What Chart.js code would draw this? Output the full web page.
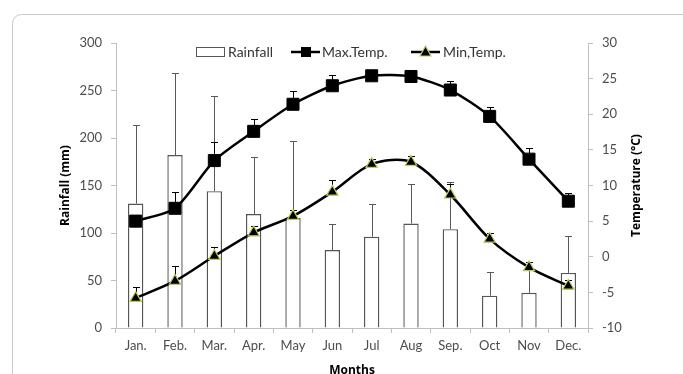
<!DOCTYPE html>
<html>
<head>
<meta charset="utf-8">
<script src="https://cdn.jsdelivr.net/npm/chart.js@4/dist/chart.umd.min.js"></script>
<style>
  html, body { margin: 0; padding: 0; background: #fff; }
  #wrap { width: 683px; height: 374px; position: relative; }
</style>
</head>
<body>
<div id="wrap"><canvas id="chart1"></canvas></div>
<script>
// values
const months = ['Jan.','Feb.','Mar.','Apr.','May','Jun','Jul','Aug','Sep.','Oct','Nov','Dec.'];
const rainfall = [131, 182, 144, 120, 116, 82, 96, 110, 104, 34, 37, 58];
const rainErr  = [83, 86, 100, 60, 81, 28, 35, 42, 50, 25, 26, 39];
const maxTemp  = [5.0, 6.8, 13.5, 17.6, 21.4, 24.0, 25.4, 25.3, 23.4, 19.7, 13.7, 7.8];
const maxErr   = [0.8, 2.3, 2.6, 1.8, 1.9, 1.5, 0.8, 0.7, 1.2, 1.3, 1.5, 1.1];
const minTemp  = [-5.8, -3.4, 0.1, 3.4, 5.7, 9.1, 13.0, 13.3, 8.7, 2.5, -1.5, -4.1];
const minErr   = [1.6, 2.1, 1.2, 0.9, 0.9, 1.7, 0.7, 0.8, 1.5, 0.9, 0.8, 0.9];
const rainTicks = [0, 50, 100, 150, 200, 250, 300];
const tempTicks = [-10, -5, 0, 5, 10, 15, 20, 25, 30];

const FONT = 'Lato, "Open Sans", sans-serif';
const TFONT = '"Open Sans", Lato, sans-serif';
const AXIS = '#bfbfbf';
const TXT = '#4d4d4d';

// rounded frame behind the chart
const framePlugin = {
  id: 'frame',
  beforeDraw(chart) {
    const c = chart.ctx;
    c.save();
    c.strokeStyle = '#c8c8c8';
    c.lineWidth = 1;
    c.beginPath();
    c.roundRect(12.5, 14.5, 720, 400, 9);
    c.stroke();
    c.restore();
  }
};

// plus-only error bars, drawn before each dataset so markers sit on top
const errorPlugin = {
  id: 'errbars',
  beforeDatasetDraw(chart, args) {
    const ds = chart.data.datasets[args.index];
    if (!ds.err) return;
    const scale = chart.scales[ds.yAxisID];
    const c = chart.ctx;
    c.save();
    c.strokeStyle = ds.errColor;
    c.lineWidth = 1;
    args.meta.data.forEach((el, i) => {
      const v = ds.data[i], e = ds.err[i];
      const yTop = Math.round(scale.getPixelForValue(v + e)) + 0.5;
      const yMid = scale.getPixelForValue(v);
      const x = Math.round(el.x) + 0.5;
      c.beginPath();
      c.moveTo(x, yMid); c.lineTo(x, yTop);
      c.moveTo(x - 3.5, yTop); c.lineTo(x + 3.5, yTop);
      c.stroke();
    });
    c.restore();
  }
};

// legend inside the plot + right axis title reading upward, Excel style
const extrasPlugin = {
  id: 'extras',
  afterDraw(chart) {
    const c = chart.ctx;
    const y = 52;
    c.save();
    c.font = '14px ' + FONT;
    c.textBaseline = 'middle';
    // Rainfall box
    c.fillStyle = '#fff';
    c.strokeStyle = '#555';
    c.lineWidth = 1;
    c.fillRect(196.5, 47.5, 28, 9);
    c.strokeRect(196.5, 47.5, 28, 9);
    c.fillStyle = '#333';
    c.fillText('Rainfall', 228, y);
    // Max temp
    c.strokeStyle = '#000';
    c.lineWidth = 2.5;
    c.beginPath(); c.moveTo(291, y); c.lineTo(320, y); c.stroke();
    c.fillStyle = '#000';
    c.fillRect(301, y - 5, 10, 10);
    c.fillStyle = '#333';
    c.fillText('Max.Temp.', 322, y);
    // Min temp
    c.beginPath(); c.moveTo(411, y); c.lineTo(440, y); c.stroke();
    c.fillStyle = '#000';
    c.strokeStyle = '#b8cc5c';
    c.lineWidth = 1.2;
    c.beginPath();
    c.moveTo(425.5, y - 6); c.lineTo(431, y + 4); c.lineTo(420, y + 4); c.closePath();
    c.fill(); c.stroke();
    c.fillStyle = '#333';
    c.fillText('Min,Temp.', 443, y);
    // right axis title
    const a = chart.chartArea;
    c.translate(637, (a.top + a.bottom) / 2);
    c.rotate(-Math.PI / 2);
    c.font = 'bold 12px ' + TFONT;
    c.fillStyle = '#000';
    c.textAlign = 'center';
    c.fillText('Temperature (°C)', 0, 0);
    c.restore();
  }
};

const ctx = document.getElementById('chart1').getContext('2d');
new Chart(ctx, {
  data: {
    labels: months,
    datasets: [
      {
        type: 'line', label: 'Max.Temp.', data: maxTemp, yAxisID: 'yT', order: 1,
        err: maxErr, errColor: '#000',
        borderColor: '#000', borderWidth: 2.5, tension: 0.25,
        pointStyle: 'rect', pointRadius: 8.5, pointBackgroundColor: '#000',
        pointBorderColor: '#000', pointBorderWidth: 1
      },
      {
        type: 'line', label: 'Min,Temp.', data: minTemp, yAxisID: 'yT', order: 2,
        err: minErr, errColor: '#000',
        borderColor: '#000', borderWidth: 2.5, tension: 0.3,
        pointStyle: 'triangle', pointRadius: 6.5, pointBackgroundColor: '#000',
        pointBorderColor: '#b8cc5c', pointBorderWidth: 1.2
      },
      {
        type: 'bar', label: 'Rainfall', data: rainfall, yAxisID: 'yR', order: 10,
        err: rainErr, errColor: '#595959',
        backgroundColor: '#fff', borderColor: '#555', borderWidth: 1.4,
        categoryPercentage: 1, barPercentage: 0.39
      }
    ]
  },
  options: {
    responsive: true,
    maintainAspectRatio: false,
    animation: false,
    layout: { padding: { left: 55, right: 36, top: 43, bottom: -4 } },
    plugins: { legend: { display: false }, tooltip: { enabled: false } },
    scales: {
      x: {
        offset: true,
        grid: { offset: true, drawOnChartArea: false, drawTicks: true, tickLength: 5, color: AXIS },
        border: { color: AXIS },
        ticks: { color: TXT, font: { family: FONT, size: 13 }, padding: 5 },
        title: { display: true, text: 'Months', color: '#000', font: { family: TFONT, size: 12, weight: 'bold' }, padding: 0 },
        afterFit(s) { s.height = 50; }
      },
      yR: {
        position: 'left', min: 0, max: 300,
        afterBuildTicks(s) { s.ticks = rainTicks.map(v => ({ value: v })); },
        grid: { drawOnChartArea: false, tickLength: 5, color: AXIS },
        border: { color: AXIS },
        ticks: { color: TXT, font: { family: FONT, size: 13 }, padding: 9 },
        title: { display: true, text: 'Rainfall (mm)', color: '#000', font: { family: TFONT, size: 12, weight: 'bold' }, padding: 3 },
        afterFit(s) { s.width = 61; }
      },
      yT: {
        position: 'right', min: -10, max: 30,
        afterBuildTicks(s) { s.ticks = tempTicks.map(v => ({ value: v })); },
        grid: { drawOnChartArea: false, tickLength: 5, color: AXIS },
        border: { color: AXIS },
        ticks: { color: TXT, font: { family: FONT, size: 13 }, padding: 9 },
        afterFit(s) { s.width = 59; }
      }
    }
  },
  plugins: [framePlugin, errorPlugin, extrasPlugin]
});
</script>
</body>
</html>
